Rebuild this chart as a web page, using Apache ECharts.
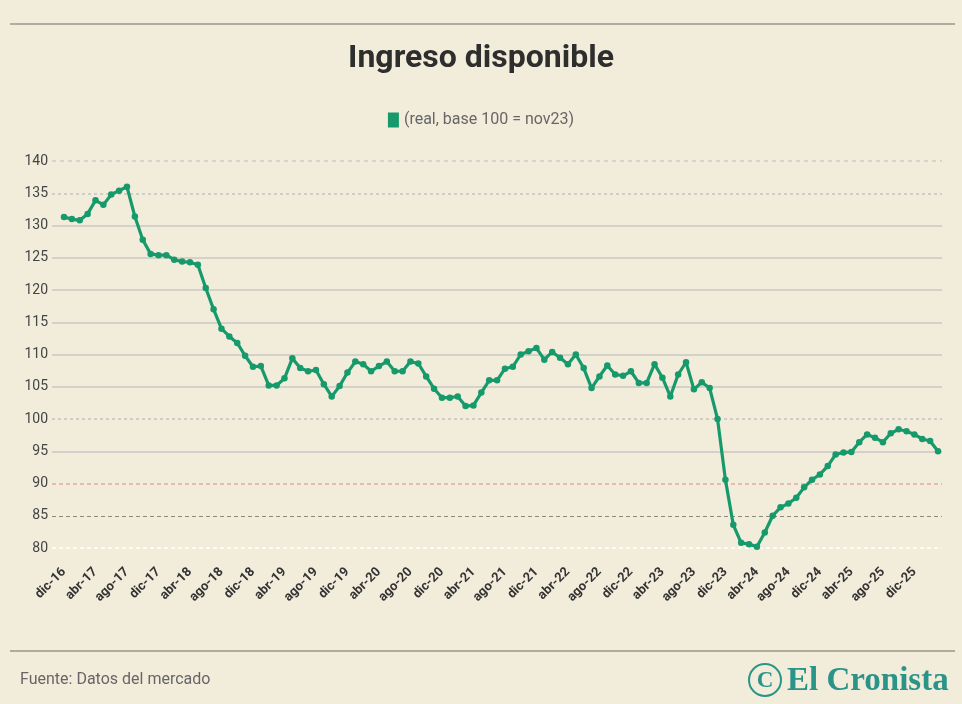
<!DOCTYPE html>
<html>
<head>
<meta charset="utf-8">
<script src="https://cdn.jsdelivr.net/npm/echarts@6/dist/echarts.min.js"></script>
<style>
html,body{margin:0;padding:0;background:#f2ecdb;}
#c{width:962px;height:704px;}
</style>
</head>
<body>
<div id="c"></div>
<script>
// ---- data ----
const monthNames = ['ene','feb','mar','abr','may','jun','jul','ago','sep','oct','nov','dic'];
const startYear = 2016, startMonth = 11; // dic-16
const values = [
131.3,131.0,130.8,131.8,133.9,133.2,134.8,135.4,136.0,131.4,
127.8,125.6,125.4,125.4,124.7,124.4,124.3,123.9,120.3,117.0,
114.0,112.8,111.8,109.8,108.1,108.2,105.2,105.2,106.3,109.4,
107.9,107.4,107.6,105.4,103.5,105.1,107.2,108.9,108.5,107.4,
108.2,108.9,107.4,107.4,108.9,108.6,106.6,104.7,103.3,103.3,
103.5,102.0,102.1,104.1,106.0,106.0,107.8,108.1,110.0,110.5,
111.0,109.2,110.4,109.5,108.5,110.0,107.9,104.8,106.6,108.3,
106.9,106.7,107.4,105.6,105.6,108.5,106.4,103.5,106.9,108.8,
104.6,105.7,104.8,100.0,90.6,83.6,80.8,80.6,80.2,82.4,
85.0,86.3,86.9,87.8,89.4,90.6,91.4,92.7,94.5,94.8,
94.9,96.4,97.6,97.1,96.4,97.8,98.4,98.1,97.6,96.9,
96.6,95.0
];
const categories = values.map(function(_, i){
  const m = (startMonth + i) % 12;
  const y = startYear + Math.floor((startMonth + i) / 12);
  return monthNames[m] + '-' + String(y).slice(2);
});
const yTicks = [80,85,90,95,100,105,110,115,120,125,130,135,140];
const seriesName = '(real, base 100 = nov23)';

// gridline styles per tick value
const gridStyles = {
  80:{color:'#ffffff',type:[4,3],width:1.5},
  85:{color:'#8a8680',type:[4,3],width:1},
  90:{color:'#e4a6ac',type:[4,3],width:1.5},
  95:{color:'#d9cdcb',type:'solid',width:2},
  100:{color:'#d0ccc8',type:[3,3],width:2},
  135:{color:'#d0ccc8',type:[3,3],width:2},
  140:{color:'#d6d2cc',type:[4,4],width:2}
};

const green = '#169a6c';
const chart = echarts.init(document.getElementById('c'), null, {renderer:'canvas'});
const gTop = 161, gBottom = 704 - 548;

chart.setOption({
  backgroundColor:'#f2ecdb',
  animation:false,
  textStyle:{fontFamily:'Roboto, "DejaVu Sans", sans-serif'},
  title:{
    text:'Ingreso disponible', left:'center', top:38,
    textStyle:{fontSize:32,fontWeight:'bold',color:'#2e2e2e',fontFamily:'Roboto'}
  },
  legend:{
    top:107, left:'center', icon:'rect', itemWidth:11, itemHeight:15, itemGap:6,
    data:[seriesName],
    textStyle:{fontSize:16,color:'#666',fontFamily:'Roboto'}
  },
  grid:[
    {left:52, right:20, top:gTop, bottom:gBottom},
    {left:64, right:24, top:gTop, bottom:gBottom}
  ],
  xAxis:[
    {type:'value', gridIndex:0, min:0, max:1, show:false},
    {type:'category', gridIndex:1, data:categories, boundaryGap:false,
     axisLine:{show:false}, axisTick:{show:false}, splitLine:{show:false},
     axisLabel:{rotate:45, interval:3, fontSize:13, fontWeight:'bold', color:'#333', margin:22}}
  ],
  yAxis:[
    {type:'value', gridIndex:0, min:80, max:140, interval:5,
     axisLine:{show:false}, axisTick:{show:false}, splitLine:{show:false},
     axisLabel:{fontSize:14, color:'#444', margin:4}},
    {type:'value', gridIndex:1, min:80, max:140, interval:5, show:false, splitLine:{show:false}}
  ],
  series:[
    {
      type:'line', xAxisIndex:0, yAxisIndex:0, data:[], silent:true, z:0,
      markLine:{
        silent:true, symbol:'none', label:{show:false}, z:0,
        data: yTicks.map(function(v){
          const s = gridStyles[v] || {color:'#d4d0ca',type:'solid',width:2};
          return {yAxis:v, lineStyle:{color:s.color,type:s.type,width:s.width}};
        })
      }
    },
    {
      name:seriesName, type:'line', xAxisIndex:1, yAxisIndex:1, data:values, z:10,
      symbol:'circle', symbolSize:6.5, showAllSymbol:true,
      lineStyle:{color:green,width:3.2}, itemStyle:{color:green}
    }
  ],
  graphic:[
    {type:'line', shape:{x1:10,y1:24,x2:955,y2:24}, style:{stroke:'#b0aca4',lineWidth:2}},
    {type:'line', shape:{x1:10,y1:651,x2:955,y2:651}, style:{stroke:'#9a968e',lineWidth:1.5}},
    {type:'text', left:20, top:672, style:{text:'Fuente: Datos del mercado', fontSize:16, fill:'#666', fontFamily:'Roboto'}},
    {type:'circle', shape:{cx:765,cy:680,r:16}, style:{fill:'none',stroke:'#2a9488',lineWidth:2}},
    {type:'text', x:765, y:681, style:{text:'C', fontSize:23, fill:'#2a9488', fontFamily:'Liberation Serif', fontWeight:'bold', align:'center', verticalAlign:'middle'}},
    {type:'text', x:787, y:681, style:{text:'El Cronista', fontSize:33, fill:'#2a9488', fontFamily:'Liberation Serif', fontWeight:'bold', verticalAlign:'middle'}}
  ]
});
</script>
</body>
</html>
